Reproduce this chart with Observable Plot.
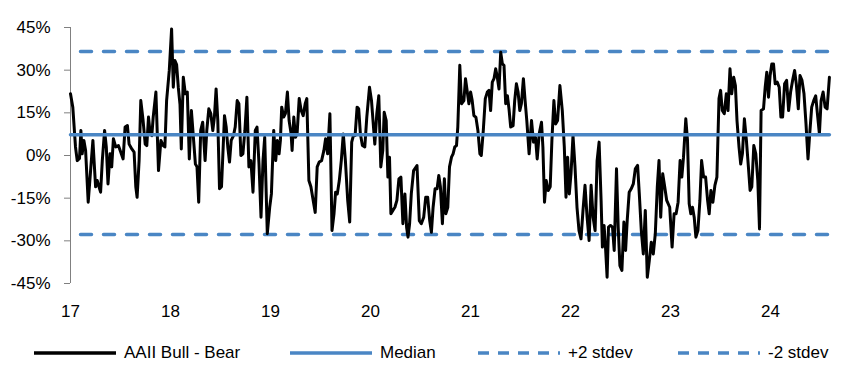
<!DOCTYPE html>
<html>
<head>
<meta charset="utf-8">
<script src="https://cdn.jsdelivr.net/npm/d3@7"></script>
<script src="https://cdn.jsdelivr.net/npm/@observablehq/plot@0.6"></script>
<style>
  html, body { margin: 0; padding: 0; background: #fff; }
  #wrap { width: 852px; height: 381px; position: relative; font-family: "Liberation Sans", Arial, sans-serif; }
  #legend { position: absolute; left: 0; top: 340px; width: 852px; height: 30px; font-size: 17px; color: #000; }
  .item { position: absolute; top: 0; display: flex; align-items: center; height: 26px; }
  .item svg { margin-right: 8px; }
</style>
</head>
<body>
<div id="wrap"><div id="chart"></div><div id="legend"></div></div>
<script>
// AAII Bull - Bear spread (%), time as decimal year
const bullBear = [
  [2017.000,21.7],[2017.023,17],[2017.050,3],[2017.067,-1.8],[2017.090,-1],[2017.104,8.8],[2017.117,0.6],[2017.134,5.3],
  [2017.151,1.8],[2017.177,-16.4],[2017.201,-5.3],[2017.224,5.3],[2017.251,-11],[2017.268,-8.8],[2017.285,-11],[2017.301,-12.9],
  [2017.318,-1.8],[2017.341,8.8],[2017.358,3],[2017.375,-10],[2017.395,0.6],[2017.412,-4],[2017.429,5.9],[2017.452,3],
  [2017.479,3.5],[2017.502,1.2],[2017.526,-1.2],[2017.546,10],[2017.569,10.5],[2017.586,4],[2017.613,2.3],[2017.636,1.2],
  [2017.653,-11],[2017.666,-14.7],[2017.686,-1.8],[2017.703,19.3],[2017.726,12.3],[2017.747,4],[2017.763,3.5],[2017.780,13.5],
  [2017.797,7.6],[2017.813,7],[2017.827,13.5],[2017.854,22.3],[2017.880,-5.3],[2017.904,5.3],[2017.927,3.5],[2017.944,3],
  [2017.961,19.3],[2017.988,30],[2018.011,44.5],
  [2018.028,24],[2018.044,33.4],[2018.061,32],[2018.078,24],[2018.095,18],[2018.108,2.3],[2018.128,27.5],[2018.148,21.7],
  [2018.168,22.3],[2018.188,-1.2],[2018.209,15.8],[2018.229,6.4],[2018.249,-3],[2018.265,-4],[2018.282,-16.4],[2018.302,8.8],
  [2018.322,11.7],[2018.346,-1.8],[2018.363,8.8],[2018.383,16.4],[2018.403,14.7],[2018.423,8.8],[2018.439,13.5],[2018.456,23.4],
  [2018.473,12.3],[2018.490,-11.7],[2018.510,-11],[2018.540,14],[2018.557,10],[2018.573,3],[2018.590,-2.3],[2018.607,5.3],
  [2018.630,7],[2018.647,10],[2018.667,19.3],[2018.684,18.2],[2018.704,0],[2018.724,0.6],[2018.744,8.8],[2018.764,20.5],
  [2018.784,-4],[2018.804,-1.8],[2018.825,-12.9],[2018.848,8.8],[2018.865,10],[2018.885,-3],[2018.905,-21.7],[2018.925,-1.8],
  [2018.942,6.4],[2018.968,-27.5],[2018.992,-18.2],
  [2019.009,-13.5],[2019.032,8.8],[2019.052,-1.8],[2019.069,5.3],[2019.086,0.6],[2019.099,5.3],[2019.112,17],[2019.132,13.5],
  [2019.149,14.7],[2019.169,22.3],[2019.186,12.3],[2019.206,7.6],[2019.216,1.8],[2019.233,13.5],[2019.250,6.4],[2019.266,7.6],
  [2019.287,20],[2019.307,15.8],[2019.327,14],[2019.347,18.2],[2019.363,20],[2019.384,-8.8],[2019.404,-11],[2019.427,-15.8],
  [2019.447,-20],[2019.467,-4],[2019.487,-2.3],[2019.511,-1.8],[2019.534,1.8],[2019.551,5.9],[2019.571,0.6],[2019.594,14.7],
  [2019.615,-26.4],[2019.635,-20.5],[2019.651,-12.9],[2019.668,-13.5],[2019.688,-8.8],[2019.708,-1.8],[2019.728,7.6],[2019.749,-1.8],
  [2019.772,-15.8],[2019.792,-23.4],[2019.812,4.7],[2019.829,7],[2019.846,7],[2019.866,17],[2019.882,16.4],[2019.899,7.6],
  [2019.919,3.5],[2019.943,3],[2019.963,13.5],[2019.990,24],
  [2020.010,19.3],[2020.030,10],[2020.043,4],[2020.063,14.7],[2020.083,21],[2020.103,-4],[2020.123,1.8],[2020.137,15.2],
  [2020.157,12.3],[2020.174,-7.6],[2020.190,-0.6],[2020.204,-20.5],[2020.224,-19.3],[2020.244,-18.2],[2020.264,-15.8],[2020.284,-8.2],
  [2020.304,-7.6],[2020.324,-24],[2020.344,-13.5],[2020.361,-25.2],[2020.375,-28.7],[2020.391,-24],[2020.408,-13.5],[2020.431,-5.3],
  [2020.465,-3.5],[2020.488,-22.9],[2020.508,-24],[2020.532,-21.7],[2020.552,-14.7],[2020.572,-14.7],[2020.592,-22.9],[2020.609,-27],
  [2020.626,-18.2],[2020.646,-11.7],[2020.666,-11.7],[2020.683,-7],[2020.699,-11],[2020.719,-24],[2020.739,-8.2],[2020.753,-20.5],
  [2020.773,-18.2],[2020.790,-4],[2020.810,-0.6],[2020.826,0.6],[2020.843,3],[2020.860,3.5],[2020.873,10],[2020.893,31.7],
  [2020.910,18.2],[2020.934,19.3],[2020.950,27],[2020.984,18.2],
  [2021.001,22.3],[2021.017,19.3],[2021.034,14],[2021.054,13.5],[2021.074,8.8],[2021.094,0.6],[2021.108,0],[2021.128,8.8],
  [2021.148,20],[2021.168,22.3],[2021.185,22.9],[2021.201,15.8],[2021.218,25.8],[2021.235,27],[2021.252,30.5],[2021.268,27.5],
  [2021.285,23.4],[2021.302,36.3],[2021.319,32.2],[2021.335,31.7],[2021.352,18.2],[2021.369,21],[2021.385,16.4],[2021.402,10],
  [2021.426,10.5],[2021.442,19.3],[2021.459,25.2],[2021.476,22.3],[2021.493,15.8],[2021.509,18.2],[2021.529,27],[2021.546,19.3],
  [2021.563,12.3],[2021.586,0.6],[2021.610,12.3],[2021.630,4.7],[2021.650,6.4],[2021.667,-1.2],[2021.687,7.6],[2021.710,11.7],
  [2021.724,3],[2021.740,-16.4],[2021.757,-8.8],[2021.777,-12.3],[2021.797,-11],[2021.814,5.3],[2021.834,19.3],[2021.851,11.1],
  [2021.871,12.3],[2021.894,24.6],[2021.918,15.8],[2021.938,3],[2021.955,-14.7],[2021.971,-0.6],[2021.988,-13.5],
  [2022.005,-6.4],[2022.025,7],[2022.045,-4],[2022.065,-18.2],[2022.085,-26.4],[2022.105,-29.3],[2022.125,-19.3],[2022.145,-10.5],
  [2022.166,-21.7],[2022.186,-29.9],[2022.206,-10.5],[2022.226,-21.7],[2022.246,-26.4],[2022.266,-1.8],[2022.286,4.7],[2022.306,-15.8],
  [2022.319,-32.2],[2022.336,-24.6],[2022.350,-32.2],[2022.366,-42.8],[2022.380,-25.2],[2022.400,-24.6],[2022.420,-25.2],[2022.437,-33.4],
  [2022.460,-4.7],[2022.477,-25.2],[2022.494,-38.7],[2022.514,-40.4],[2022.534,-23.4],[2022.551,-33.4],[2022.567,-22.9],[2022.587,-12.9],
  [2022.607,-11.7],[2022.628,-10],[2022.648,-4.7],[2022.671,-3.5],[2022.688,-13.5],[2022.708,-26.4],[2022.728,-34.6],[2022.748,-19.3],
  [2022.768,-42.8],[2022.788,-36.9],[2022.808,-30.5],[2022.828,-34.6],[2022.848,-27.5],[2022.868,-11],[2022.885,-1.8],[2022.902,-21.7],
  [2022.922,-6.4],[2022.942,-11],[2022.962,-15.8],[2022.992,-18.2],
  [2023.016,-32.2],[2023.036,-20.5],[2023.056,-20.5],[2023.076,-16.4],[2023.096,-1.8],[2023.113,-7.6],[2023.130,-0.6],[2023.153,12.9],
  [2023.170,5.3],[2023.187,-17],[2023.203,-20.5],[2023.220,-18.2],[2023.237,-21.7],[2023.254,-28.7],[2023.274,-26.4],[2023.294,-15.8],
  [2023.311,-1.8],[2023.331,-7.6],[2023.351,-7.6],[2023.371,-15.8],[2023.387,-20.5],[2023.404,-12.3],[2023.424,-16.4],[2023.444,-10.5],
  [2023.464,-7.6],[2023.485,20],[2023.501,22.9],[2023.518,15.8],[2023.538,14.7],[2023.558,21.7],[2023.575,15.8],[2023.595,30.5],
  [2023.612,21.7],[2023.632,27.5],[2023.649,24.6],[2023.665,12.3],[2023.685,3],[2023.702,-3],[2023.719,0.6],[2023.739,12.9],
  [2023.759,5.3],[2023.779,-4],[2023.796,-12.3],[2023.813,-11],[2023.833,3.5],[2023.853,0.6],[2023.873,-8.8],[2023.890,-25.8],
  [2023.906,15.8],[2023.930,16.4],[2023.947,24],[2023.963,29.3],[2023.980,20.5],[2023.996,28.1],
  [2024.013,32.2],[2024.030,32.2],[2024.047,25.2],[2024.067,25.8],[2024.087,24],[2024.104,13.5],[2024.121,13.5],[2024.141,25.2],
  [2024.161,26.4],[2024.181,15.8],[2024.201,22.3],[2024.221,26.4],[2024.241,29.9],[2024.258,25.2],[2024.278,16.4],[2024.295,28.1],
  [2024.315,26.4],[2024.335,21.7],[2024.355,11.1],[2024.375,-1.2],[2024.392,7.6],[2024.412,17],[2024.432,19.3],[2024.452,21],
  [2024.469,14.7],[2024.489,7.6],[2024.506,19.3],[2024.526,22.3],[2024.546,17],[2024.566,16.4],[2024.589,27.5]
];

const median = 7.3;
const plus2sd = 36.6;
const minus2sd = -27.8;

const yTicks = [45, 30, 15, 0, -15, -30, -45];
const xTicks = [2017, 2018, 2019, 2020, 2021, 2022, 2023, 2024];

const seriesLabels = ["AAII Bull - Bear", "Median", "+2 stdev", "-2 stdev"];

const series = bullBear.map(([t, v]) => ({t, v}));
const t0 = series[0].t, t1 = series[series.length - 1].t;
const flat = (v) => [{t: t0, v}, {t: t1, v}];

const blue = "#4A86C4";

const chart = Plot.plot({
  width: 852,
  height: 335,
  marginLeft: 70,
  marginRight: 22,
  marginTop: 27,
  marginBottom: 52,
  style: {fontFamily: '"Liberation Sans", Arial, sans-serif', fontSize: "17px", color: "#000", background: "#fff"},
  x: {domain: [2017, 2024.6], label: null},
  y: {domain: [-45, 45], label: null},
  marks: [
    Plot.ruleX([2017], {y1: -45, y2: 45, stroke: "#808080", strokeWidth: 1}),
    Plot.axisY({ticks: yTicks, tickFormat: d => d + "%", tickSize: 6, tickPadding: 14, stroke: "#808080", strokeOpacity: 1, fill: "#000", label: null}),
    Plot.axisX({ticks: xTicks, tickFormat: d => String(d).slice(2), tickSize: 0, tickPadding: 21, fill: "#000", label: null}),
    Plot.lineY(flat(plus2sd), {x: "t", y: "v", stroke: blue, strokeWidth: 3.5, strokeDasharray: "11,12", strokeDashoffset: 13}),
    Plot.lineY(flat(minus2sd), {x: "t", y: "v", stroke: blue, strokeWidth: 3.5, strokeDasharray: "11,12", strokeDashoffset: 13}),
    Plot.lineY(series, {x: "t", y: "v", stroke: "#000", strokeWidth: 3, strokeLinejoin: "round"}),
    Plot.lineY(flat(median), {x: "t", y: "v", stroke: blue, strokeWidth: 3.5})
  ]
});
document.getElementById("chart").appendChild(chart);

// Legend
const legend = document.getElementById("legend");
const legendItems = [
  {label: seriesLabels[0], color: "#000", dash: null, left: 34},
  {label: seriesLabels[1], color: blue, dash: null, left: 290},
  {label: seriesLabels[2], color: blue, dash: "11,9", left: 478},
  {label: seriesLabels[3], color: blue, dash: "11,9", left: 678}
];
legendItems.forEach(it => {
  const d = document.createElement("div");
  d.className = "item";
  d.style.left = it.left + "px";
  const w = 82;
  d.innerHTML = `<svg width="${w}" height="10"><line x1="0" x2="${w}" y1="5" y2="5" stroke="${it.color}" stroke-width="3.5" ${it.dash ? `stroke-dasharray="${it.dash}"` : ""}/></svg><span>${it.label}</span>`;
  legend.appendChild(d);
});
</script>
</body>
</html>
